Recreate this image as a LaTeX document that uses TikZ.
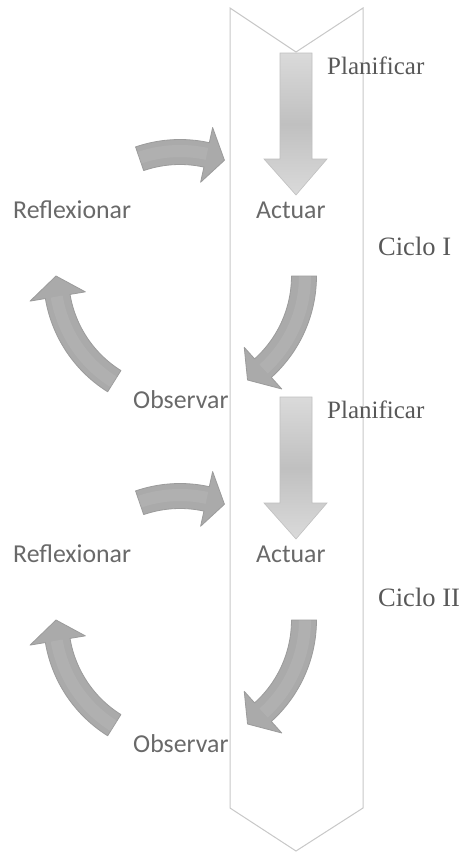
\documentclass[tikz,border=0pt]{standalone}
\usepackage{fontspec}
\setmainfont{Liberation Serif}
\newfontfamily\calibfont{Carlito}
\definecolor{chevline}{RGB}{200,200,200}
\definecolor{serifgray}{RGB}{88,88,88}
\definecolor{sansgray}{RGB}{105,105,105}
\definecolor{cycgray}{RGB}{170,170,170}
\definecolor{cycedge}{RGB}{155,155,155}
\definecolor{downlight}{RGB}{218,218,218}
\definecolor{downmid}{RGB}{192,192,192}
\newcommand{\cycarrow}[6]{%
 \filldraw[cyc] plot[domain=#4:#5,samples=30] ({#1+(#3+12.5)*cos(\x)},{#2+(#3+12.5)*sin(\x)})
   -- ({#1+(#3+28)*cos(#5)},{#2+(#3+28)*sin(#5)})
   -- ({#1+#3*cos(#6)},{#2+#3*sin(#6)})
   -- ({#1+(#3-28)*cos(#5)},{#2+(#3-28)*sin(#5)})
   -- plot[domain=#5:#4,samples=30] ({#1+(#3-12.5)*cos(\x)},{#2+(#3-12.5)*sin(\x)}) -- cycle;
 \draw[cychl] plot[domain=#4:#5,samples=30] ({#1+(#3+1)*cos(\x)},{#2+(#3+1)*sin(\x)});}
\begin{document}
\begin{tikzpicture}[x=1pt,y=-1pt,
  cyc/.style={fill=cycgray,draw=cycedge,line width=0.8pt,line join=round},
  cychl/.style={draw=white,opacity=0.08,line width=12pt},
  downarrow/.style={top color=downlight,bottom color=downlight,middle color=downmid,draw=downmid,line width=0.6pt},
  serifl/.style={inner sep=0pt,anchor=base west,text=serifgray,font=\fontsize{25}{30}\selectfont},
  ciclol/.style={inner sep=0pt,anchor=base west,text=serifgray,font=\fontsize{26.5}{32}\selectfont},
  sansl/.style={inner sep=0pt,anchor=base west,text=sansgray,font=\calibfont\fontsize{25.8}{31}\selectfont},
  chev/.style={draw=chevline,line width=1pt}]
\useasboundingbox (0,0) rectangle (461,852);
\fill[white] (0,0) rectangle (461,852);
% chevron band
\draw[chev] (230,8) -- (296,52) -- (363,8) -- (363,808) -- (296,851) -- (230,808) -- cycle;
% cycle I
\begin{scope}
  \shade[downarrow] (280,53) -- (312,53) -- (312,159) -- (327,159) -- (296,195) -- (264,159) -- (280,159) -- cycle;
  \cycarrow{180}{276}{124}{-109}{-77.6}{-69}
  \cycarrow{180}{276}{124}{0}{48}{57}
  \cycarrow{180}{276}{124}{122}{170.5}{180}
  \node[serifl] (plan1) at (327,74) {Planificar};
  \node[sansl] (act1) at (256,218) {Actuar};
  \node[sansl] (refl1) at (13,218) {Reflexionar};
  \node[sansl] (obs1) at (133,408) {Observar};
  \node[ciclol] (ciclo1) at (378,255) {Ciclo I};
\end{scope}
% cycle II
\begin{scope}[shift={(0,344)}]
  \shade[downarrow] (280,53) -- (312,53) -- (312,159) -- (327,159) -- (296,195) -- (264,159) -- (280,159) -- cycle;
  \cycarrow{180}{276}{124}{-109}{-77.6}{-69}
  \cycarrow{180}{276}{124}{0}{48}{57}
  \cycarrow{180}{276}{124}{122}{170.5}{180}
  \node[serifl] (plan2) at (327,74) {Planificar};
  \node[sansl] (act2) at (256,218) {Actuar};
  \node[sansl] (refl2) at (13,218) {Reflexionar};
  \node[sansl] (obs2) at (133,408) {Observar};
\end{scope}
\node[ciclol] (ciclo2) at (378,606) {Ciclo II};
\end{tikzpicture}
\end{document}
